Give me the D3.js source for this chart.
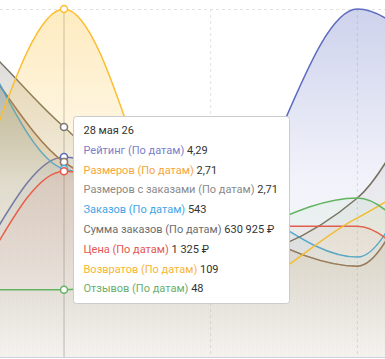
<!DOCTYPE html>
<html lang="ru">
<head>
<meta charset="UTF-8">
<title></title>
<script src="https://cdn.jsdelivr.net/npm/d3@7"></script>
<style>
  body { margin: 0; background: #fff; }
  svg { display: block; font-family: Roboto, "Open Sans", sans-serif; }
</style>
</head>
<body>
<script>
const width = 385;
const height = 359;

const plotTop = 9;
const plotBottom = 357;
const hoverX = 64;
const step = 146.7;

const dates = ["26 мая 26", "27 мая 26", "28 мая 26", "29 мая 26", "30 мая 26", "31 мая 26", "1 июня 26"];
const hoverIndex = 2;

// every series sits on its own hidden axis, so values are a level in % of that axis
const rating      = [40, 10, 57.5, 35, 100, 65, 50];
const sizes       = [80, 100, 56, 40.8, 26.1, 100, 80];
const sizesOrders = [80, 100, 56, 40.8, 26.1, 100, 80];
const orders      = [80, 110, 54, 48.3, 28.7, 100, 80];
const ordersSum   = [80, 100, 66.1, 28, 45.7, 105, 95];
const price       = [20, 4.9, 53.4, 37.6, 37.6, 2, 10];
const returns     = [40, 21.8, 100, 16.4, 40, 59.5, 50];
const reviews     = [19.3, 19.3, 19.3, 31.6, 45.7, 9.5, 20];

const names = ["Рейтинг (По датам)", "Размеров (По датам)", "Размеров с заказами (По датам)",
  "Заказов (По датам)", "Сумма заказов (По датам)", "Цена (По датам)",
  "Возвратов (По датам)", "Отзывов (По датам)"];
const tipValues = ["4,29", "2,71", "2,71", "543", "630 925 ₽", "1 325 ₽", "109", "48"];
const lineColors = ["#5c6bc0", "#f5a33a", "#8d776b", "#45aee0", "#786f60", "#e8574c", "#fbbd2e", "#62b462"];
const labelColors = ["#7b80c8", "#f6a53c", "#8a8a8a", "#42a5e8", "#6d6d6d", "#e4574f", "#f9b531", "#6aae6a"];
const markerColors = ["#5c6bc0", "#8d776b", "#8d776b", "#45aee0", "#777777", "#e8574c", "#fbbd2e", "#62b462"];

const seriesValues = [rating, sizes, sizesOrders, orders, ordersSum, price, returns, reviews];
const series = names.map((name, i) => ({
  name, values: seriesValues[i], color: lineColors[i],
  label: labelColors[i], marker: markerColors[i], tip: tipValues[i]
}));

const x = d3.scalePoint()
  .domain(dates)
  .range([hoverX - hoverIndex * step, hoverX + (dates.length - 1 - hoverIndex) * step]);

const y = d3.scaleLinear()
  .domain([0, 100])
  .range([plotBottom, plotTop]);

const svg = d3.select("body").append("svg")
  .attr("width", width)
  .attr("height", height)
  .attr("viewBox", [0, 0, width, height]);

const defs = svg.append("defs");
defs.append("clipPath").attr("id", "plot")
  .append("rect").attr("x", 0).attr("y", 0).attr("width", width).attr("height", plotBottom);

series.forEach((s, i) => {
  const g = defs.append("linearGradient")
    .attr("id", "fill" + i)
    .attr("gradientUnits", "userSpaceOnUse")
    .attr("x1", 0).attr("y1", plotTop).attr("x2", 0).attr("y2", plotBottom);
  g.append("stop").attr("offset", "0%").attr("stop-color", s.color).attr("stop-opacity", 0.3);
  g.append("stop").attr("offset", "50%").attr("stop-color", s.color).attr("stop-opacity", 0.08);
  g.append("stop").attr("offset", "100%").attr("stop-color", s.color).attr("stop-opacity", 0.015);
});

// grid
svg.append("g")
  .selectAll("line")
  .data(dates.filter((d, i) => i !== hoverIndex))
  .join("line")
  .attr("x1", d => x(d)).attr("x2", d => x(d))
  .attr("y1", plotTop).attr("y2", plotBottom)
  .attr("stroke", "#e2e2e2")
  .attr("stroke-dasharray", "3,3");

svg.append("line")
  .attr("x1", 0).attr("x2", width)
  .attr("y1", y(100) + 0.5).attr("y2", y(100) + 0.5)
  .attr("stroke", "#e2e2e2")
  .attr("stroke-dasharray", "3,3");

svg.append("line")
  .attr("x1", 0).attr("x2", width)
  .attr("y1", plotBottom + 0.5).attr("y2", plotBottom + 0.5)
  .attr("stroke", "#cfd2d6");

// hover line
svg.append("line")
  .attr("x1", x(dates[hoverIndex])).attr("x2", x(dates[hoverIndex]))
  .attr("y1", plotTop).attr("y2", plotBottom)
  .attr("stroke", "#d4d4d4")
  .attr("stroke-width", 1.5);

const area = d3.area()
  .x((d, i) => x(dates[i]))
  .y0(plotBottom)
  .y1(d => y(d))
  .curve(d3.curveMonotoneX);

const line = d3.line()
  .x((d, i) => x(dates[i]))
  .y(d => y(d))
  .curve(d3.curveMonotoneX);

const plot = svg.append("g").attr("clip-path", "url(#plot)");

series.forEach((s, i) => {
  plot.append("path")
    .datum(s.values)
    .attr("fill", `url(#fill${i})`)
    .attr("d", area);
  plot.append("path")
    .datum(s.values)
    .attr("fill", "none")
    .attr("stroke", s.color)
    .attr("stroke-width", 1.5)
    .attr("d", line);
});

// hover markers
svg.append("g")
  .selectAll("circle")
  .data(series)
  .join("circle")
  .attr("cx", x(dates[hoverIndex]))
  .attr("cy", s => y(s.values[hoverIndex]))
  .attr("r", 3.5)
  .attr("fill", "#fff")
  .attr("stroke", s => s.marker)
  .attr("stroke-width", 1.5);

// tooltip
const tip = svg.append("g").attr("transform", "translate(73.5,116.5)");
tip.append("rect")
  .attr("width", 216).attr("height", 187)
  .attr("rx", 3)
  .attr("fill", "#fff")
  .attr("stroke", "#c9cbcf");

tip.append("text")
  .attr("x", 10).attr("y", 17.5)
  .attr("font-size", 11)
  .attr("fill", "#333")
  .text(dates[hoverIndex]);

const rows = tip.append("g")
  .selectAll("text")
  .data(series)
  .join("text")
  .attr("x", 10)
  .attr("y", (d, i) => 37.3 + i * 19.8)
  .attr("font-size", 11);
rows.append("tspan").attr("fill", d => d.label).text(d => d.name + " ");
rows.append("tspan").attr("fill", "#333").text(d => d.tip);
</script>
</body>
</html>
